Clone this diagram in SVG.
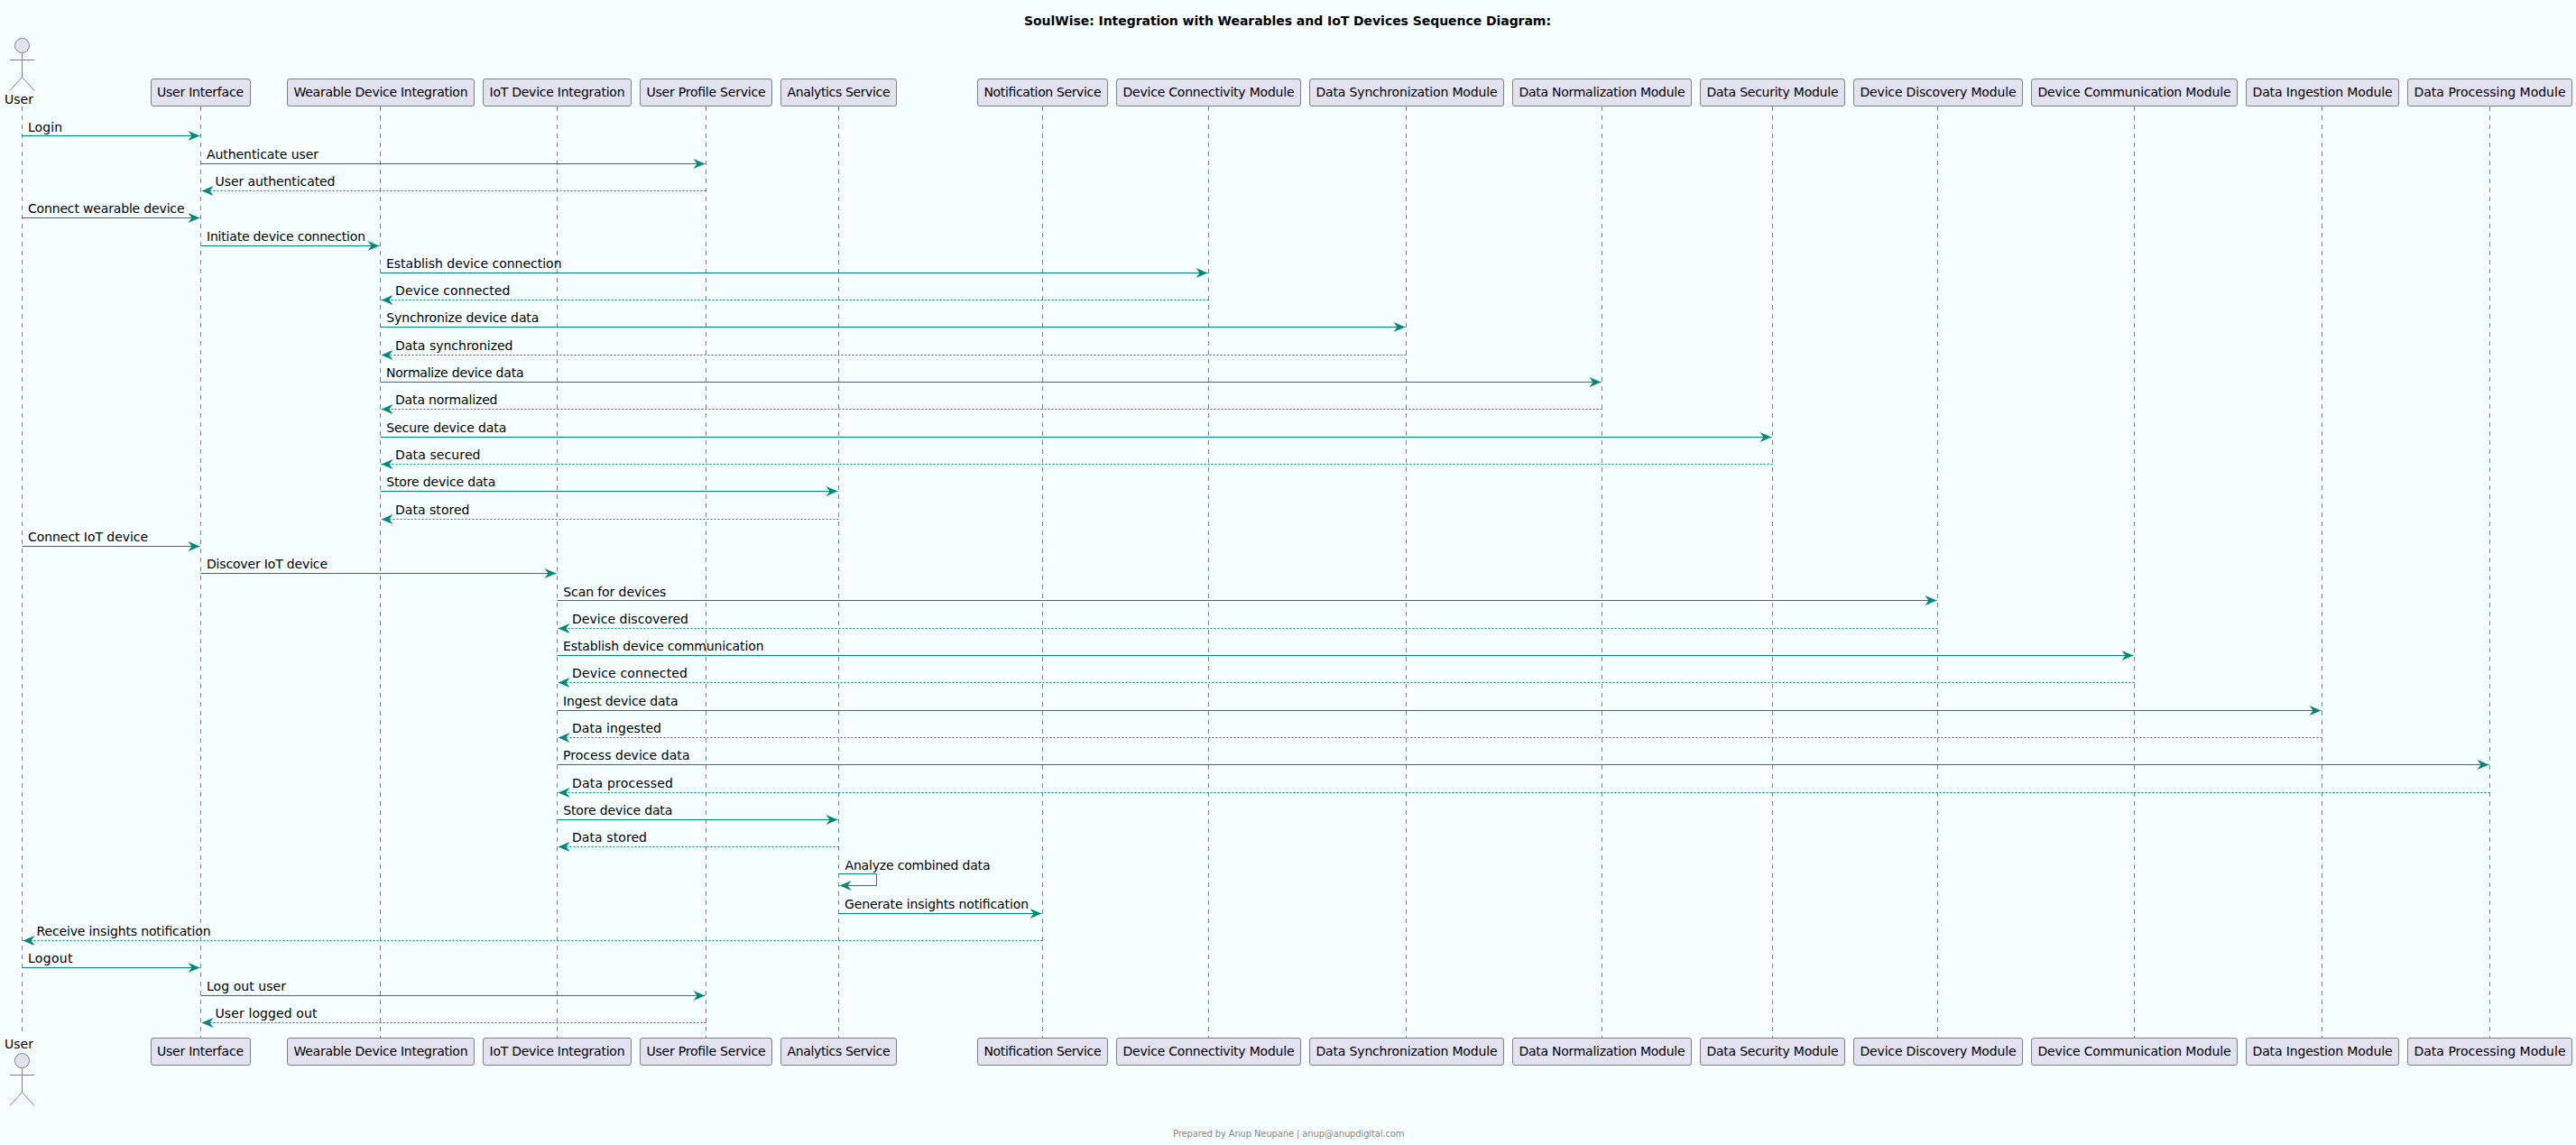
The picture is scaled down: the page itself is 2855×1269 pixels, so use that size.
<svg xmlns="http://www.w3.org/2000/svg" width="2855" height="1269" viewBox="0 0 2855 1269">
<defs>
<style>
text{font-family:"DejaVu Sans",sans-serif;font-size:14px;fill:#000}
.title{font-weight:bold}
.foot{font-size:10px;fill:#888}
.box{fill:#E2E2F0;stroke:#808080;stroke-width:1}
.life{stroke:#808080;stroke-width:1;stroke-dasharray:5 5;fill:none}
.act{fill:none;stroke:#808080;stroke-width:1}
.head{fill:#E2E2F0;stroke:#808080;stroke-width:1}
.m{stroke:#00897B;stroke-width:1;fill:none}
.d{stroke:#00897B;stroke-width:1;fill:none;stroke-dasharray:2 2}
</style>
<marker id="ar" markerUnits="userSpaceOnUse" markerWidth="15" markerHeight="13" refX="13" refY="5.5" orient="auto" overflow="visible"><path d="M0,0 L13,5.5 L0,11 L4,5.5 Z" fill="#00897B"/></marker>
</defs>
<rect x="0" y="0" width="2855" height="1269" fill="#F5FFFF"/>
<text class="title" x="1135" y="28" textLength="584">SoulWise: Integration with Wearables and IoT Devices Sequence Diagram:</text>
<g id="user"><line class="life" x1="24.5" y1="118" x2="24.5" y2="1146"/>
<circle class="head" cx="24.5" cy="50.5" r="8"/><path class="act" d="M24.5,58.5V85.5M11,66.5H38M11,100.5L24.5,85.5L38,100.5"/><text x="5" y="115">User</text>
<text x="5" y="1162">User</text><circle class="head" cx="24.5" cy="1175.5" r="8"/><path class="act" d="M24.5,1183.5V1210.5M11,1191.5H38M11,1225.5L24.5,1210.5L38,1225.5"/></g>
<g id="ui"><line class="life" x1="222.5" y1="118" x2="222.5" y2="1150"/><rect class="box" x="167.5" y="87.5" width="110" height="30" rx="2.5"/><text x="174" y="107" textLength="96">User Interface</text><rect class="box" x="167.5" y="1150.5" width="110" height="30" rx="2.5"/><text x="174" y="1170" textLength="96">User Interface</text></g>
<g id="wearable"><line class="life" x1="421.5" y1="118" x2="421.5" y2="1150"/><rect class="box" x="318.5" y="87.5" width="207" height="30" rx="2.5"/><text x="325.5" y="107" textLength="193">Wearable Device Integration</text><rect class="box" x="318.5" y="1150.5" width="207" height="30" rx="2.5"/><text x="325.5" y="1170" textLength="193">Wearable Device Integration</text></g>
<g id="iot"><line class="life" x1="617.5" y1="118" x2="617.5" y2="1150"/><rect class="box" x="535.5" y="87.5" width="164" height="30" rx="2.5"/><text x="542.5" y="107" textLength="150">IoT Device Integration</text><rect class="box" x="535.5" y="1150.5" width="164" height="30" rx="2.5"/><text x="542.5" y="1170" textLength="150">IoT Device Integration</text></g>
<g id="profile"><line class="life" x1="782.5" y1="118" x2="782.5" y2="1150"/><rect class="box" x="709.5" y="87.5" width="146" height="30" rx="2.5"/><text x="716.5" y="107" textLength="132">User Profile Service</text><rect class="box" x="709.5" y="1150.5" width="146" height="30" rx="2.5"/><text x="716.5" y="1170" textLength="132">User Profile Service</text></g>
<g id="analytics"><line class="life" x1="929.5" y1="118" x2="929.5" y2="1150"/><rect class="box" x="865.5" y="87.5" width="128" height="30" rx="2.5"/><text x="872.5" y="107" textLength="114">Analytics Service</text><rect class="box" x="865.5" y="1150.5" width="128" height="30" rx="2.5"/><text x="872.5" y="1170" textLength="114">Analytics Service</text></g>
<g id="notification"><line class="life" x1="1155.5" y1="118" x2="1155.5" y2="1150"/><rect class="box" x="1083.5" y="87.5" width="144" height="30" rx="2.5"/><text x="1090.5" y="107" textLength="130">Notification Service</text><rect class="box" x="1083.5" y="1150.5" width="144" height="30" rx="2.5"/><text x="1090.5" y="1170" textLength="130">Notification Service</text></g>
<g id="connectivity"><line class="life" x1="1339.5" y1="118" x2="1339.5" y2="1150"/><rect class="box" x="1237.5" y="87.5" width="204" height="30" rx="2.5"/><text x="1244.5" y="107" textLength="190">Device Connectivity Module</text><rect class="box" x="1237.5" y="1150.5" width="204" height="30" rx="2.5"/><text x="1244.5" y="1170" textLength="190">Device Connectivity Module</text></g>
<g id="sync"><line class="life" x1="1558.5" y1="118" x2="1558.5" y2="1150"/><rect class="box" x="1451.5" y="87.5" width="215" height="30" rx="2.5"/><text x="1458.5" y="107" textLength="201">Data Synchronization Module</text><rect class="box" x="1451.5" y="1150.5" width="215" height="30" rx="2.5"/><text x="1458.5" y="1170" textLength="201">Data Synchronization Module</text></g>
<g id="norm"><line class="life" x1="1775.5" y1="118" x2="1775.5" y2="1150"/><rect class="box" x="1676.5" y="87.5" width="198" height="30" rx="2.5"/><text x="1683.5" y="107" textLength="184">Data Normalization Module</text><rect class="box" x="1676.5" y="1150.5" width="198" height="30" rx="2.5"/><text x="1683.5" y="1170" textLength="184">Data Normalization Module</text></g>
<g id="security"><line class="life" x1="1964.5" y1="118" x2="1964.5" y2="1150"/><rect class="box" x="1884.5" y="87.5" width="160" height="30" rx="2.5"/><text x="1891.5" y="107" textLength="146">Data Security Module</text><rect class="box" x="1884.5" y="1150.5" width="160" height="30" rx="2.5"/><text x="1891.5" y="1170" textLength="146">Data Security Module</text></g>
<g id="discovery"><line class="life" x1="2147.5" y1="118" x2="2147.5" y2="1150"/><rect class="box" x="2054.5" y="87.5" width="187" height="30" rx="2.5"/><text x="2061.5" y="107" textLength="173">Device Discovery Module</text><rect class="box" x="2054.5" y="1150.5" width="187" height="30" rx="2.5"/><text x="2061.5" y="1170" textLength="173">Device Discovery Module</text></g>
<g id="comm"><line class="life" x1="2365.5" y1="118" x2="2365.5" y2="1150"/><rect class="box" x="2251.5" y="87.5" width="228" height="30" rx="2.5"/><text x="2258.5" y="107" textLength="214">Device Communication Module</text><rect class="box" x="2251.5" y="1150.5" width="228" height="30" rx="2.5"/><text x="2258.5" y="1170" textLength="214">Device Communication Module</text></g>
<g id="ingestion"><line class="life" x1="2573.5" y1="118" x2="2573.5" y2="1150"/><rect class="box" x="2489.5" y="87.5" width="169" height="30" rx="2.5"/><text x="2496.5" y="107" textLength="155">Data Ingestion Module</text><rect class="box" x="2489.5" y="1150.5" width="169" height="30" rx="2.5"/><text x="2496.5" y="1170" textLength="155">Data Ingestion Module</text></g>
<g id="processing"><line class="life" x1="2759.5" y1="118" x2="2759.5" y2="1150"/><rect class="box" x="2668.5" y="87.5" width="182" height="30" rx="2.5"/><text x="2675.5" y="107" textLength="168">Data Processing Module</text><rect class="box" x="2668.5" y="1150.5" width="182" height="30" rx="2.5"/><text x="2675.5" y="1170" textLength="168">Data Processing Module</text></g>
<g id="connectors">
<line class="m" x1="24.5" y1="150.5" x2="221.5" y2="150.5" marker-end="url(#ar)"/>
<line class="m" x1="222.5" y1="181.5" x2="781.5" y2="181.5" marker-end="url(#ar)"/>
<line class="d" x1="782.5" y1="211.5" x2="223.5" y2="211.5" marker-end="url(#ar)"/>
<line class="m" x1="24.5" y1="241.5" x2="221.5" y2="241.5" marker-end="url(#ar)"/>
<line class="m" x1="222.5" y1="272.5" x2="420.5" y2="272.5" marker-end="url(#ar)"/>
<line class="m" x1="421.5" y1="302.5" x2="1338.5" y2="302.5" marker-end="url(#ar)"/>
<line class="d" x1="1339.5" y1="332.5" x2="422.5" y2="332.5" marker-end="url(#ar)"/>
<line class="m" x1="421.5" y1="362.5" x2="1557.5" y2="362.5" marker-end="url(#ar)"/>
<line class="d" x1="1558.5" y1="393.5" x2="422.5" y2="393.5" marker-end="url(#ar)"/>
<line class="m" x1="421.5" y1="423.5" x2="1774.5" y2="423.5" marker-end="url(#ar)"/>
<line class="d" x1="1775.5" y1="453.5" x2="422.5" y2="453.5" marker-end="url(#ar)"/>
<line class="m" x1="421.5" y1="484.5" x2="1963.5" y2="484.5" marker-end="url(#ar)"/>
<line class="d" x1="1964.5" y1="514.5" x2="422.5" y2="514.5" marker-end="url(#ar)"/>
<line class="m" x1="421.5" y1="544.5" x2="928.5" y2="544.5" marker-end="url(#ar)"/>
<line class="d" x1="929.5" y1="575.5" x2="422.5" y2="575.5" marker-end="url(#ar)"/>
<line class="m" x1="24.5" y1="605.5" x2="221.5" y2="605.5" marker-end="url(#ar)"/>
<line class="m" x1="222.5" y1="635.5" x2="616.5" y2="635.5" marker-end="url(#ar)"/>
<line class="m" x1="617.5" y1="665.5" x2="2146.5" y2="665.5" marker-end="url(#ar)"/>
<line class="d" x1="2147.5" y1="696.5" x2="618.5" y2="696.5" marker-end="url(#ar)"/>
<line class="m" x1="617.5" y1="726.5" x2="2364.5" y2="726.5" marker-end="url(#ar)"/>
<line class="d" x1="2365.5" y1="756.5" x2="618.5" y2="756.5" marker-end="url(#ar)"/>
<line class="m" x1="617.5" y1="787.5" x2="2572.5" y2="787.5" marker-end="url(#ar)"/>
<line class="d" x1="2573.5" y1="817.5" x2="618.5" y2="817.5" marker-end="url(#ar)"/>
<line class="m" x1="617.5" y1="847.5" x2="2758.5" y2="847.5" marker-end="url(#ar)"/>
<line class="d" x1="2759.5" y1="878.5" x2="618.5" y2="878.5" marker-end="url(#ar)"/>
<line class="m" x1="617.5" y1="908.5" x2="928.5" y2="908.5" marker-end="url(#ar)"/>
<line class="d" x1="929.5" y1="938.5" x2="618.5" y2="938.5" marker-end="url(#ar)"/>
<path class="m" d="M929.5,968.5H971.5V981.5H930.5" marker-end="url(#ar)"/>
<line class="m" x1="929.5" y1="1012.5" x2="1154.5" y2="1012.5" marker-end="url(#ar)"/>
<line class="d" x1="1155.5" y1="1042.5" x2="25.5" y2="1042.5" marker-end="url(#ar)"/>
<line class="m" x1="24.5" y1="1072.5" x2="221.5" y2="1072.5" marker-end="url(#ar)"/>
<line class="m" x1="222.5" y1="1103.5" x2="781.5" y2="1103.5" marker-end="url(#ar)"/>
<line class="d" x1="782.5" y1="1133.5" x2="223.5" y2="1133.5" marker-end="url(#ar)"/>
</g>
<g id="labels">
<text x="31" y="146" textLength="38">Login</text>
<text x="229" y="176" textLength="124">Authenticate user</text>
<text x="238.5" y="206" textLength="133">User authenticated</text>
<text x="31" y="236" textLength="173.5">Connect wearable device</text>
<text x="229" y="267" textLength="176">Initiate device connection</text>
<text x="428" y="297" textLength="194.5">Establish device connection</text>
<text x="438" y="327" textLength="127.5">Device connected</text>
<text x="428.3" y="357" textLength="169">Synchronize device data</text>
<text x="438" y="388" textLength="130.5">Data synchronized</text>
<text x="428" y="418" textLength="152.5">Normalize device data</text>
<text x="438" y="448" textLength="113.5">Data normalized</text>
<text x="428.3" y="479" textLength="133">Secure device data</text>
<text x="438" y="509" textLength="94.5">Data secured</text>
<text x="428.3" y="539" textLength="121">Store device data</text>
<text x="438" y="570" textLength="82.5">Data stored</text>
<text x="31" y="600" textLength="133">Connect IoT device</text>
<text x="229" y="630" textLength="134">Discover IoT device</text>
<text x="624.3" y="661" textLength="114">Scan for devices</text>
<text x="634" y="691" textLength="129">Device discovered</text>
<text x="624" y="721" textLength="222.5">Establish device communication</text>
<text x="634" y="751" textLength="128">Device connected</text>
<text x="624" y="782" textLength="127.5">Ingest device data</text>
<text x="634" y="812" textLength="99">Data ingested</text>
<text x="624" y="842" textLength="140.5">Process device data</text>
<text x="634" y="873" textLength="112">Data processed</text>
<text x="624.3" y="903" textLength="121">Store device data</text>
<text x="634" y="933" textLength="83">Data stored</text>
<text x="936.5" y="964" textLength="161">Analyze combined data</text>
<text x="936" y="1007" textLength="204">Generate insights notification</text>
<text x="40.5" y="1037" textLength="193">Receive insights notification</text>
<text x="31" y="1067" textLength="49.5">Logout</text>
<text x="229" y="1098" textLength="88">Log out user</text>
<text x="238.5" y="1128" textLength="113">User logged out</text>
</g>
<text class="foot" x="1300" y="1260" textLength="256.5">Prepared by Anup Neupane | anup@anupdigital.com</text>
</svg>
